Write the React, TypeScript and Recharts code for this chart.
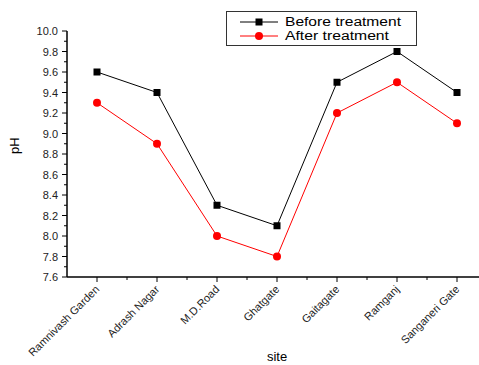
// pH before / after treatment by site
import React from "react";
import { LineChart, Line, XAxis, YAxis, Legend } from "recharts";

const sites = [
  "Ramnivash Garden",
  "Adrash Nagar",
  "M.D.Road",
  "Ghatgate",
  "Gaitagate",
  "Ramganj",
  "Sanganeri Gate"
];
const beforeTreatment = [9.6, 9.4, 8.3, 8.1, 9.5, 9.8, 9.4];
const afterTreatment = [9.3, 8.9, 8.0, 7.8, 9.2, 9.5, 9.1];
const yTicks = [
  7.6, 7.7, 7.8, 7.9, 8.0, 8.1, 8.2, 8.3, 8.4, 8.5, 8.6, 8.7, 8.8,
  8.9, 9.0, 9.1, 9.2, 9.3, 9.4, 9.5, 9.6, 9.7, 9.8, 9.9, 10.0
];

const data = sites.map((site, i) => ({
  site,
  before: beforeTreatment[i],
  after: afterTreatment[i]
}));

const FONT = "'Liberation Sans', Arial, sans-serif";

const YTick = (props: any) => {
  const { x, y, payload, index } = props;
  const major = index % 2 === 0;
  return (
    <g>
      <line x1={x} x2={x - (major ? 5 : 3)} y1={y} y2={y} stroke="#000" strokeWidth={1} />
      {major && (
        <text x={x - 9} y={y} dy={4} textAnchor="end" fontSize={11} fill="#222" fontFamily={FONT}>
          {payload.value.toFixed(1)}
        </text>
      )}
    </g>
  );
};

const XTick = (props: any) => {
  const { x, y, payload } = props;
  return (
    <g>
      <line x1={x} x2={x} y1={y} y2={y + 5} stroke="#000" strokeWidth={1} />
      <line x1={x + 30} x2={x + 30} y1={y} y2={y + 3} stroke="#000" strokeWidth={1} />
      <text
        x={x + 3}
        y={y + 13}
        textAnchor="end"
        fontSize={11}
        fill="#222"
        fontFamily={FONT}
        transform={`rotate(-45, ${x + 3}, ${y + 13})`}
      >
        {payload.value}
      </text>
    </g>
  );
};

const SquareDot = (props: any) => {
  const { cx, cy } = props;
  return <rect x={cx - 3.5} y={cy - 3.5} width={7} height={7} fill="#000" />;
};

// legend text in the original is drawn a little wide, so stretch it with textLength
const LegendBox = () => (
  <svg width={192} height={36} style={{ display: "block" }}>
    <rect x={0.5} y={0.5} width={190} height={34} fill="#fff" stroke="#333" strokeWidth={1} />
    <line x1={14} x2={52} y1={11} y2={11} stroke="#000" strokeWidth={1} />
    <rect x={29.5} y={7.5} width={7} height={7} fill="#000" />
    <line x1={14} x2={52} y1={25} y2={25} stroke="#f00" strokeWidth={1} />
    <circle cx={33} cy={25} r={4} fill="#f00" />
    <text x={59} y={15} fontSize={12} fontFamily={FONT} fill="#000" textLength={116} lengthAdjust="spacingAndGlyphs">
      Before treatment
    </text>
    <text x={59} y={29} fontSize={12} fontFamily={FONT} fill="#000" textLength={104} lengthAdjust="spacingAndGlyphs">
      After treatment
    </text>
  </svg>
);

export default function App() {
  return (
    <div
      style={{
        position: "fixed",
        left: 0,
        top: 0,
        width: 479,
        height: 365,
        overflow: "hidden",
        background: "#fff"
      }}
    >
      <LineChart
        width={490}
        height={365}
        data={data}
        margin={{ top: 31, right: 3, left: 0, bottom: 0 }}
      >
        <XAxis
          dataKey="site"
          padding={{ left: 30, right: 30 }}
          height={88}
          tickSize={0}
          tickMargin={0}
          tickLine={false}
          tick={<XTick />}
          interval={0}
          axisLine={{ stroke: "#000", strokeWidth: 1.5 }}
          label={{
            value: "site",
            position: "insideBottom",
            offset: 4,
            fontSize: 13,
            fill: "#000",
            fontFamily: FONT
          }}
        />
        <YAxis
          width={67}
          domain={[7.6, 10.0]}
          ticks={yTicks}
          interval={0}
          tickSize={0}
          tickMargin={0}
          tickLine={false}
          tick={<YTick />}
          axisLine={{ stroke: "#000", strokeWidth: 1.5 }}
          label={{
            value: "pH",
            angle: -90,
            position: "insideLeft",
            offset: 14,
            fontSize: 13,
            fill: "#000",
            fontFamily: FONT
          }}
        />
        <Legend
          layout="vertical"
          verticalAlign="middle"
          align="center"
          wrapperStyle={{ top: 11, left: 226, width: 192 }}
          content={() => <LegendBox />}
        />
        <Line
          type="linear"
          dataKey="before"
          name="Before treatment"
          stroke="#000"
          strokeWidth={1}
          dot={<SquareDot />}
          isAnimationActive={false}
        />
        <Line
          type="linear"
          dataKey="after"
          name="After treatment"
          stroke="#f00"
          strokeWidth={1}
          dot={{ r: 4, fill: "#f00", stroke: "#f00", strokeWidth: 0 }}
          isAnimationActive={false}
        />
      </LineChart>
    </div>
  );
}
